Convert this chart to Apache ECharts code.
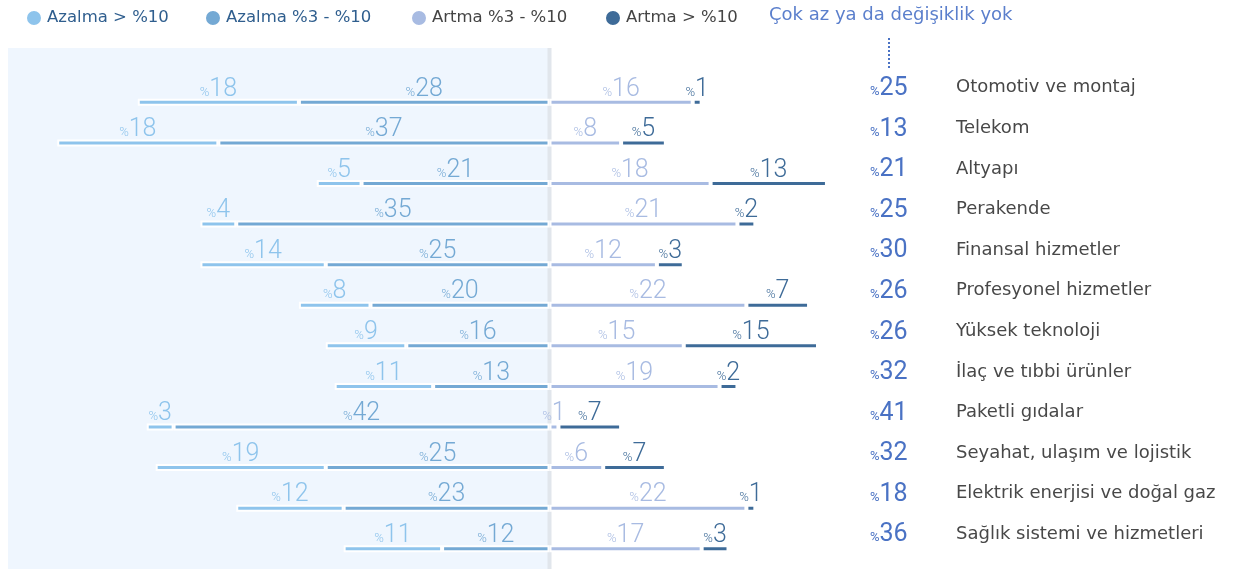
<!DOCTYPE html>
<html>
<head>
<meta charset="utf-8">
<script src="https://cdn.jsdelivr.net/npm/echarts@6/dist/echarts.min.js"></script>
<style>
  html, body { margin: 0; padding: 0; background: #fff; }
  #chart { width: 1241px; height: 569px; }
</style>
</head>
<body>
<div id="chart"></div>
<script>
// sektörler, yukarıdan aşağıya
const sektorler = ['Otomotiv ve montaj', 'Telekom', 'Altyapı', 'Perakende', 'Finansal hizmetler',
  'Profesyonel hizmetler', 'Yüksek teknoloji', 'İlaç ve tıbbi ürünler', 'Paketli gıdalar',
  'Seyahat, ulaşım ve lojistik', 'Elektrik enerjisi ve doğal gaz', 'Sağlık sistemi ve hizmetleri'];
const azalmaBuyuk = [18, 18, 5, 4, 14, 8, 9, 11, 3, 19, 12, 11];   // Azalma > %10
const azalmaOrta = [28, 37, 21, 35, 25, 20, 16, 13, 42, 25, 23, 12]; // Azalma %3 - %10
const artmaOrta = [16, 8, 18, 21, 12, 22, 15, 19, 1, 6, 22, 17];     // Artma %3 - %10
const artmaBuyuk = [1, 5, 13, 2, 3, 7, 15, 2, 7, 7, 1, 3];           // Artma > %10
const degisimYok = [25, 13, 21, 25, 30, 26, 26, 32, 41, 32, 18, 36]; // Çok az ya da değişiklik yok

const renkler = {
  azalmaBuyuk: '#8ec4ec',
  azalmaOrta: '#74a9d4',
  artmaOrta: '#a8bbe2',
  artmaBuyuk: '#3e6b98'
};

const numFont = 'Roboto';
const yaziFont = 'DejaVu Sans';

function barSerisi(ad, veri, renk, negatif) {
  return {
    name: ad,
    type: 'bar',
    stack: 'toplam',
    barWidth: 7,
    data: veri.map(v => negatif ? -v : v),
    itemStyle: { color: renk, borderColor: '#fff', borderWidth: 2 },
    label: {
      show: true,
      position: 'top',
      distance: -3,
      formatter: p => '{p|%}{n|' + Math.abs(p.value) + '}',
      rich: {
        p: { fontFamily: numFont, fontSize: 13, color: renk, fontWeight: 300, padding: [6, 0, 0, 0] },
        n: { fontFamily: numFont, fontSize: 25, color: renk, fontWeight: 300 }
      }
    }
  };
}

const chart = echarts.init(document.getElementById('chart'));

const legendOrtak = {
  top: 4,
  icon: 'circle',
  itemWidth: 16,
  itemHeight: 16,
  itemGap: 9,
  textStyle: { fontFamily: yaziFont, fontSize: 16.5 }
};

chart.setOption({
  animation: false,
  color: [renkler.azalmaOrta, renkler.azalmaBuyuk, renkler.artmaOrta, renkler.artmaBuyuk],
  legend: [
    Object.assign({}, legendOrtak, { left: 20, data: [{ name: 'Azalma > %10', textStyle: { color: '#2f5e8e' } }] }),
    Object.assign({}, legendOrtak, { left: 199, data: [{ name: 'Azalma %3 - %10', textStyle: { color: '#2f5e8e' } }] }),
    Object.assign({}, legendOrtak, { left: 405, data: [{ name: 'Artma %3 - %10', textStyle: { color: '#444' } }] }),
    Object.assign({}, legendOrtak, { left: 599, data: [{ name: 'Artma > %10', textStyle: { color: '#444' } }] })
  ],
  grid: { left: 12.5, width: 895, top: 82, height: 493 },
  xAxis: {
    type: 'value',
    min: -60,
    max: 40,
    show: false
  },
  yAxis: [
    {
      type: 'category',
      inverse: true,
      position: 'right',
      data: sektorler,
      axisLine: { show: false },
      axisTick: { show: false },
      axisLabel: {
        margin: 0,
        align: 'right',
        padding: [0, 0, 27, 0],
        formatter: (v, i) => '{p|%}{n|' + degisimYok[i] + '}',
        rich: {
          p: { fontFamily: numFont, fontSize: 13, color: '#4a72c4', padding: [6, 0, 0, 0] },
          n: { fontFamily: numFont, fontSize: 25, color: '#4a72c4' }
        }
      }
    },
    {
      type: 'category',
      inverse: true,
      position: 'right',
      data: sektorler,
      axisLine: { show: false },
      axisTick: { show: false },
      axisLabel: {
        margin: 48.5,
        align: 'left',
        formatter: v => '{t|' + v + '}',
        rich: {
          t: { color: '#484848', fontFamily: yaziFont, fontSize: 18, padding: [0, 0, 29, 0] }
        }
      }
    }
  ],
  series: [
    barSerisi('Azalma %3 - %10', azalmaOrta, renkler.azalmaOrta, true),
    barSerisi('Azalma > %10', azalmaBuyuk, renkler.azalmaBuyuk, true),
    barSerisi('Artma %3 - %10', artmaOrta, renkler.artmaOrta, false),
    barSerisi('Artma > %10', artmaBuyuk, renkler.artmaBuyuk, false)
  ]
});

// sol arka plan ve orta çizgi, sıfır noktasına göre
const sifirX = chart.convertToPixel({ gridIndex: 0 }, [0, 0])[0];
chart.setOption({
  graphic: [
    { type: 'rect', z: -10, shape: { x: 8, y: 48, width: sifirX - 8, height: 521 }, style: { fill: '#eff6fe' } },
    { type: 'rect', z: -9, shape: { x: sifirX - 2, y: 48, width: 4, height: 521 }, style: { fill: '#e1e6ec' } },
    { type: 'text', left: 769, top: 6, style: { text: 'Çok az ya da değişiklik yok', fill: '#5b7fcc', font: '18px "DejaVu Sans"' } },
    { type: 'line', shape: { x1: 889, y1: 38, x2: 889, y2: 68 }, style: { stroke: '#4a72c4', lineWidth: 2, lineDash: [2, 2] } }
  ]
});
</script>
</body>
</html>
